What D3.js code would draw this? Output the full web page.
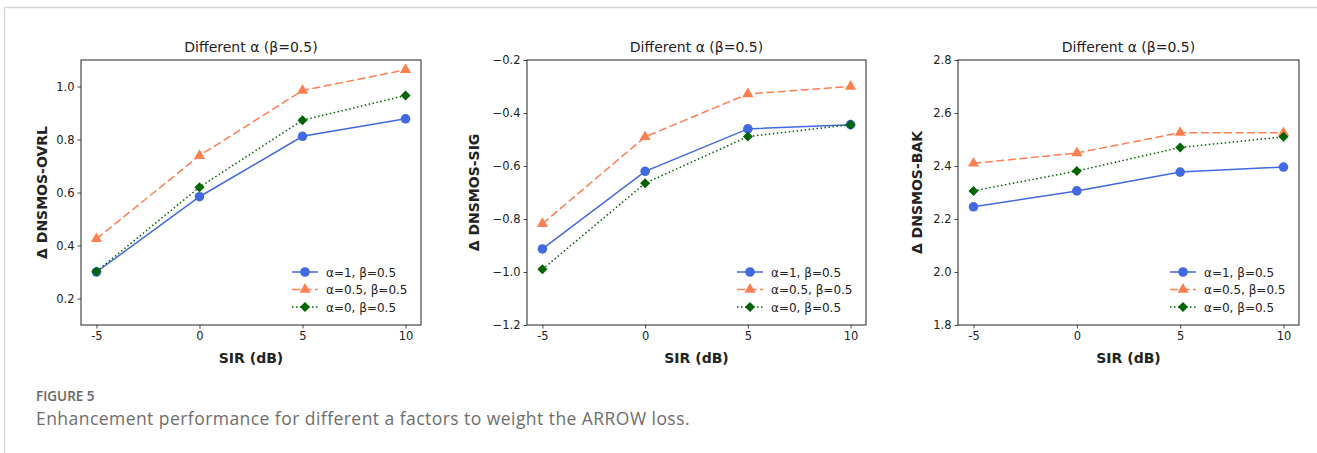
<!DOCTYPE html>
<html>
<head>
<meta charset="utf-8">
<script src="https://cdn.jsdelivr.net/npm/d3@7"></script>
<style>
  body { margin: 0; background: #fff; }
  svg text { font-family: "DejaVu Sans", sans-serif; fill: #222; }
  .tick text { font-size: 11.5px; }
  .panel-title { font-size: 14px; }
  .axis-label { font-size: 14px; font-weight: bold; }
  .legend-text { font-size: 12px; }
  .caption-head { font-family: "Open Sans", sans-serif !important; font-size: 13.5px; font-weight: 600; fill: #666 !important; }
  .caption-body { font-family: "Open Sans", sans-serif !important; font-size: 17.5px; letter-spacing: 0.45px; fill: #6d6d6d !important; }
</style>
</head>
<body>
<div id="chart"></div>
<script>
// SIR levels (dB)
const sir = [-5, 0, 5, 10];
const xTicks = [-5, 0, 5, 10];

const seriesNames = ["α=1, β=0.5", "α=0.5, β=0.5", "α=0, β=0.5"];

// Δ DNSMOS-OVRL
const ovrlA1 = [0.30, 0.584, 0.812, 0.878];
const ovrlA05 = [0.425, 0.739, 0.985, 1.063];
const ovrlA0 = [0.302, 0.62, 0.873, 0.966];
const ovrlTicks = [0.2, 0.4, 0.6, 0.8, 1.0];

// Δ DNSMOS-SIG
const sigA1 = [-0.913, -0.62, -0.46, -0.444];
const sigA05 = [-0.818, -0.49, -0.328, -0.30];
const sigA0 = [-0.99, -0.665, -0.489, -0.444];
const sigTicks = [-1.2, -1.0, -0.8, -0.6, -0.4, -0.2];

// Δ DNSMOS-BAK
const bakA1 = [2.246, 2.306, 2.377, 2.396];
const bakA05 = [2.41, 2.449, 2.526, 2.525];
const bakA0 = [2.306, 2.381, 2.47, 2.51];
const bakTicks = [1.8, 2.0, 2.2, 2.4, 2.6, 2.8];

const panels = [
  { ylabel: "Δ DNSMOS-OVRL", series: [ovrlA1, ovrlA05, ovrlA0], ticks: ovrlTicks, domain: [0.1, 1.1], left: 81, right: 421, labelGap: 34 },
  { ylabel: "Δ DNSMOS-SIG", series: [sigA1, sigA05, sigA0], ticks: sigTicks, domain: [-1.2, -0.2], left: 527, right: 866, labelGap: 48 },
  { ylabel: "Δ DNSMOS-BAK", series: [bakA1, bakA05, bakA0], ticks: bakTicks, domain: [1.8, 2.8], left: 958, right: 1299, labelGap: 36 }
];

const styles = [
  { color: "#4169e1", dash: null, symbol: d3.symbolCircle, size: 72, rotate: 0 },
  { color: "#ff7f50", dash: "8,3.5", symbol: d3.symbolTriangle, size: 54, rotate: 0 },
  { color: "#006400", dash: "1.5,2.5", symbol: d3.symbolSquare, size: 50, rotate: 45 }
];

const width = 1317, height = 453;
const plotTop = 60, plotBottom = 325;

const svg = d3.select("#chart").append("svg")
  .attr("width", width)
  .attr("height", height);

// card border (top and left)
svg.append("line").attr("x1", 4).attr("x2", width).attr("y1", 7.5).attr("y2", 7.5)
  .attr("stroke", "#d9d9d9").attr("stroke-width", 1.5);
svg.append("line").attr("x1", 4.5).attr("x2", 4.5).attr("y1", 7).attr("y2", height)
  .attr("stroke", "#d9d9d9").attr("stroke-width", 1.5);

panels.forEach(p => {
  const x = d3.scaleLinear().domain([-5.75, 10.75]).range([p.left, p.right]);
  const y = d3.scaleLinear().domain(p.domain).range([plotBottom, plotTop]);
  const g = svg.append("g");

  const fmtY = d => d3.format(".1f")(d).replace("-", "−");

  const xAxis = g.append("g")
    .attr("transform", `translate(0,${plotBottom})`)
    .call(d3.axisBottom(x).tickValues(xTicks).tickSize(3.5).tickPadding(3).tickFormat(d => String(d)));
  const yAxis = g.append("g")
    .attr("transform", `translate(${p.left},0)`)
    .call(d3.axisLeft(y).tickValues(p.ticks).tickSize(3.5).tickPadding(3).tickFormat(fmtY));
  [xAxis, yAxis].forEach(a => {
    a.select(".domain").remove();
    a.selectAll(".tick line").attr("stroke", "#333").attr("stroke-width", 0.9);
    a.selectAll(".tick text").attr("fill", "#333");
  });

  // lines and markers
  p.series.forEach((vals, i) => {
    const s = styles[i];
    const pts = sir.map((v, k) => [x(v), y(vals[k])]);
    g.append("path")
      .attr("d", d3.line()(pts))
      .attr("fill", "none")
      .attr("stroke", s.color)
      .attr("stroke-width", 1.5)
      .attr("stroke-dasharray", s.dash);
    g.selectAll(null).data(pts).enter().append("path")
      .attr("d", d3.symbol().type(s.symbol).size(s.size))
      .attr("transform", d => `translate(${d[0]},${d[1]}) rotate(${s.rotate})`)
      .attr("fill", s.color);
  });

  // frame
  g.append("rect")
    .attr("x", p.left).attr("y", plotTop)
    .attr("width", p.right - p.left).attr("height", plotBottom - plotTop)
    .attr("fill", "none").attr("stroke", "#222").attr("stroke-width", 1);

  g.append("text").attr("class", "panel-title")
    .attr("x", (p.left + p.right) / 2).attr("y", 52)
    .attr("text-anchor", "middle")
    .text("Different α (β=0.5)");

  g.append("text").attr("class", "axis-label")
    .attr("x", (p.left + p.right) / 2).attr("y", 363)
    .attr("text-anchor", "middle")
    .text("SIR (dB)");

  g.append("text").attr("class", "axis-label")
    .attr("transform", `translate(${p.left - p.labelGap},${(plotTop + plotBottom) / 2}) rotate(-90)`)
    .attr("text-anchor", "middle")
    .text(p.ylabel);

  // legend
  const lg = g.append("g").attr("transform", `translate(${p.right - 129}, 272)`);
  seriesNames.forEach((name, i) => {
    const s = styles[i];
    const row = lg.append("g").attr("transform", `translate(0,${i * 17.5})`);
    row.append("line").attr("x1", 0).attr("x2", 26)
      .attr("stroke", s.color).attr("stroke-width", 1.5)
      .attr("stroke-dasharray", s.dash);
    row.append("path")
      .attr("d", d3.symbol().type(s.symbol).size(s.size))
      .attr("transform", `translate(13,0) rotate(${s.rotate})`)
      .attr("fill", s.color);
    row.append("text").attr("class", "legend-text")
      .attr("x", 34).attr("y", 4.5)
      .text(name);
  });
});

svg.append("text").attr("class", "caption-head")
  .attr("x", 36).attr("y", 401)
  .text("FIGURE 5");
svg.append("text").attr("class", "caption-body")
  .attr("x", 36).attr("y", 425)
  .text("Enhancement performance for different a factors to weight the ARROW loss.");
</script>
</body>
</html>
